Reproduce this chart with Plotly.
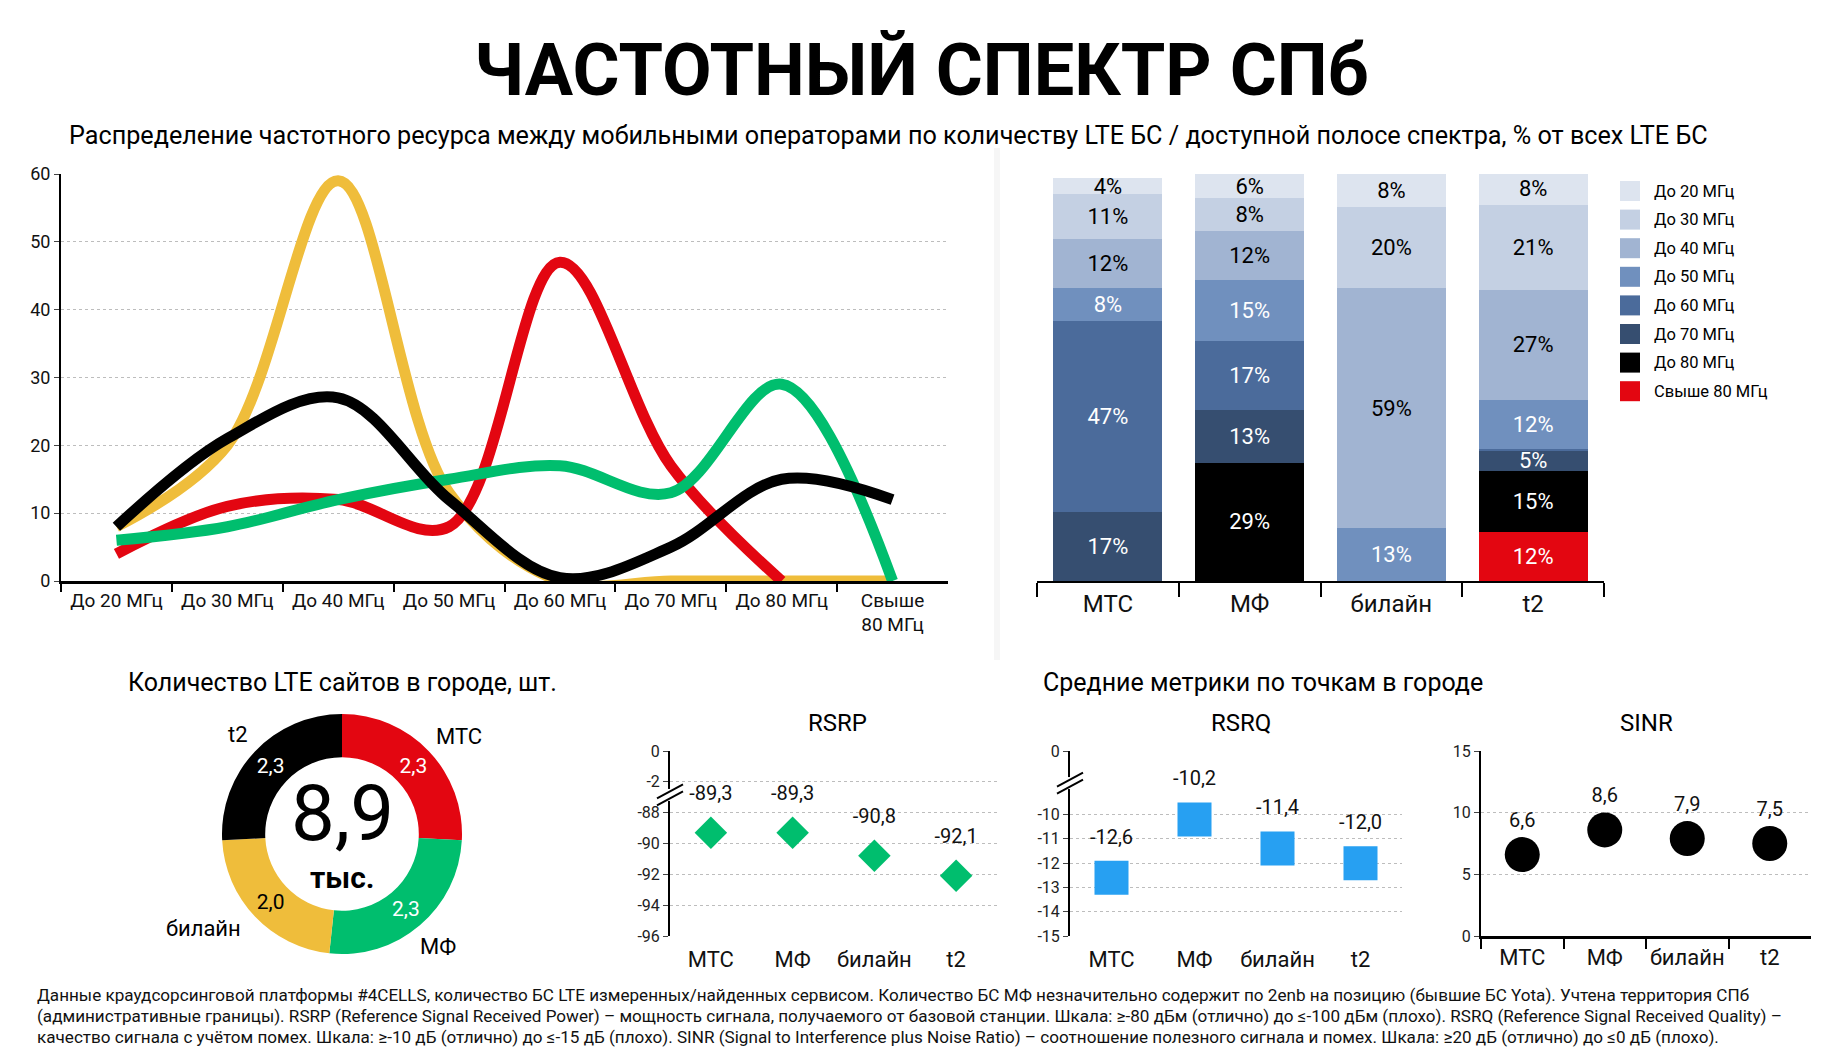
import plotly.graph_objects as go

# ---- data ----
bands = ['До 20 МГц', 'До 30 МГц', 'До 40 МГц', 'До 50 МГц',
         'До 60 МГц', 'До 70 МГц', 'До 80 МГц', 'Свыше 80 МГц']
band_ticks = ['До 20 МГц', 'До 30 МГц', 'До 40 МГц', 'До 50 МГц',
              'До 60 МГц', 'До 70 МГц', 'До 80 МГц', 'Свыше<br>80 МГц']
operators = ['МТС', 'МФ', 'билайн', 't2']

# share of LTE BS per band, % (by operator)
mts_share = [4, 11, 12, 8, 47, 17, 0, None]
mf_share = [6, 8, 12, 15, 17, 13, 29, 0]
beeline_share = [8, 20, 59, 13, 0, 0, 0, 0]
t2_share = [8, 21, 27, 12, 0.5, 5, 15, 12]

sites_k = [2.3, 2.3, 2.0, 2.3]          # тыс. LTE сайтов
rsrp = [-89.3, -89.3, -90.8, -92.1]
rsrq = [-12.6, -10.2, -11.4, -12.0]
sinr = [6.6, 8.6, 7.9, 7.5]

op_colors = ['#e30611', '#00be6e', '#efbd3b', '#000000']
band_colors = ['#dde4ef', '#c4d0e3', '#a1b4d2', '#7090be',
               '#4b6b9b', '#364e70', '#000000', '#e30611']
band_text = ['#000000', '#000000', '#000000', '#ffffff',
             '#ffffff', '#ffffff', '#ffffff', '#ffffff']

W, H = 1838, 1058
FONT = 'Roboto, Liberation Sans, sans-serif'


def px(x):
    return x / W


def py(y):
    return 1 - y / H


def fmt(v):
    return f'{v:.1f}'.replace('.', ',')


fig = go.Figure()

# ---- 1. line chart ----
shares = [mts_share, mf_share, beeline_share, t2_share]
for i in [2, 0, 1, 3]:
    fig.add_trace(go.Scatter(
        x=bands, y=shares[i], mode='lines',
        line=dict(color=op_colors[i], width=11, shape='spline', smoothing=1.0),
        showlegend=False, hoverinfo='skip', xaxis='x', yaxis='y'))

# ---- 2. stacked bars ----
for b in range(len(bands) - 1, -1, -1):
    vals = [s[b] if s[b] else 0 for s in shares]
    txt = [f'{v:g}%' if v >= 1 else '' for v in vals]
    fig.add_trace(go.Bar(
        x=operators, y=vals, name=bands[b], marker=dict(color=band_colors[b], line=dict(width=0)),
        text=txt, textposition='inside', insidetextanchor='middle', textangle=0,
        textfont=dict(color=band_text[b], size=22, family=FONT),
        showlegend=False, hoverinfo='skip', xaxis='x2', yaxis='y2'))

# ---- 3. donut ----
fig.add_trace(go.Pie(
    values=sites_k, labels=operators, sort=False, direction='clockwise', rotation=0,
    hole=0.64, marker=dict(colors=op_colors, line=dict(width=0)),
    text=[fmt(v) for v in sites_k], textinfo='text', textposition='inside',
    insidetextorientation='horizontal',
    textfont=dict(color=['#ffffff', '#ffffff', '#000000', '#ffffff'], size=20, family=FONT),
    domain=dict(x=[px(222), px(462)], y=[py(954), py(714)]),
    showlegend=False, hoverinfo='skip'))

# ---- 4. metrics: marker + value label (label on a transparent, larger marker to lift it) ----
metric_sets = [
    (rsrp, 'x3', 'y3', dict(symbol='diamond', size=25, color='#00be6e'), 43),
    (rsrq, 'x5', 'y5', dict(symbol='square', size=34, color='#27a0f2'), 45),
    (sinr, 'x7', 'y7', dict(symbol='circle', size=35, color='#000000'), 35),
]
for vals, xa, ya, mk, lift in metric_sets:
    fig.add_trace(go.Scatter(
        x=operators, y=vals, mode='markers', marker=mk,
        showlegend=False, hoverinfo='skip', xaxis=xa, yaxis=ya))
    fig.add_trace(go.Scatter(
        x=operators, y=vals, mode='text+markers', text=[fmt(v) for v in vals],
        textposition='top center', textfont=dict(size=20, family=FONT, color='#111'),
        marker=dict(size=lift, opacity=0),
        showlegend=False, hoverinfo='skip', xaxis=xa, yaxis=ya))

grid = dict(showgrid=True, gridcolor='#bdbdbd', griddash='dot', gridwidth=1)
tickf = dict(size=16, family=FONT, color='#222')
catf = dict(size=22, family=FONT, color='#111')
top_y = [py(936), py(751)]
fixed = dict(automargin=False, tickangle=0)
rsrp_x = [px(670), px(997)]
rsrq_x = [px(1070), px(1402)]
sinr_x = [px(1481), px(1811)]

fig.update_layout(
    width=W, height=H, margin=dict(l=0, r=0, t=0, b=0),
    paper_bgcolor='white', plot_bgcolor='white',
    barmode='stack', bargap=0.23,
    uniformtext=dict(minsize=21, mode='show'),
    font=dict(family=FONT, color='#000'),
    # line chart
    xaxis=dict(domain=[px(61), px(948)], anchor='y', range=[-0.5, 7.5],
               showline=True, linecolor='#000', linewidth=2.5,
               ticks='outside', ticklen=8, tickcolor='#000', tickwidth=2, tickson='boundaries',
               showgrid=False, tickvals=bands, ticktext=band_ticks,
               tickfont=dict(size=19, family=FONT, color='#111'), **fixed),
    yaxis=dict(domain=[py(581), py(174)], anchor='x', range=[0, 60], dtick=10,
               showline=True, linecolor='#000', linewidth=2, ticks='outside', ticklen=5,
               zeroline=False, tickfont=dict(size=18, family=FONT, color='#111'), **grid, **fixed),
    # bars
    xaxis2=dict(domain=[px(1037), px(1604)], anchor='y2', showline=True, linecolor='#000', linewidth=2,
                ticks='outside', ticklen=14, tickwidth=2, tickcolor='#000', tickson='boundaries',
                showgrid=False, tickfont=dict(size=24, family=FONT, color='#111'), **fixed),
    yaxis2=dict(domain=[py(581), py(174)], anchor='x2', range=[0, 100], visible=False, **fixed),
    # RSRP
    xaxis3=dict(domain=rsrp_x, anchor='y3', showline=False, ticks='', showgrid=False,
                tickfont=catf, range=[-0.5, 3.5], ticklabelstandoff=8, **fixed),
    xaxis4=dict(domain=rsrp_x, anchor='y3', overlaying='x3', side='top',
                range=[-0.5, 3.5], tickvals=[-0.5, 0.5, 1.5, 2.5, 3.5], showticklabels=False,
                showline=True, linecolor='#000', linewidth=2.5, ticks='outside', ticklen=10,
                tickwidth=2, tickcolor='#000', showgrid=False, **fixed),
    yaxis3=dict(domain=top_y, anchor='x3', range=[-96, -84],
                tickvals=[-96, -94, -92, -90, -88, -86, -84],
                ticktext=['-96', '-94', '-92', '-90', '-88', '-2', '0'],
                showline=True, linecolor='#000', linewidth=2, ticks='outside', ticklen=5,
                zeroline=False, tickfont=tickf, **grid, **fixed),
    # RSRQ
    xaxis5=dict(domain=rsrq_x, anchor='y5', showline=False, ticks='', showgrid=False,
                tickfont=catf, range=[-0.5, 3.5], ticklabelstandoff=8, **fixed),
    xaxis6=dict(domain=rsrq_x, anchor='y5', overlaying='x5', side='top',
                range=[-0.5, 3.5], tickvals=[-0.5, 0.5, 1.5, 2.5, 3.5], showticklabels=False,
                showline=True, linecolor='#000', linewidth=2.5, ticks='outside', ticklen=10,
                tickwidth=2, tickcolor='#000', showgrid=False, **fixed),
    yaxis5=dict(domain=top_y, anchor='x5', range=[-15, -7.38],
                tickvals=[-15, -14, -13, -12, -11, -10, -7.38],
                ticktext=['-15', '-14', '-13', '-12', '-11', '-10', '0'],
                showline=True, linecolor='#000', linewidth=2, ticks='outside', ticklen=5,
                zeroline=False, tickfont=tickf, **grid, **fixed),
    # SINR
    xaxis7=dict(domain=sinr_x, anchor='y7', range=[-0.5, 3.5],
                showline=True, linecolor='#000', linewidth=2.5,
                ticks='outside', ticklen=10, tickwidth=2, tickcolor='#000', tickson='boundaries',
                showgrid=False, tickfont=catf, **fixed),
    yaxis7=dict(domain=top_y, anchor='x7', range=[0, 15], dtick=5,
                showline=True, linecolor='#000', linewidth=2, ticks='outside', ticklen=5,
                zeroline=False, tickfont=tickf, **grid, **fixed),
)

ann = []


def text(x, y, s, size, bold=False, anchor='center', color='#000'):
    ann.append(dict(x=px(x), y=py(y), xref='paper', yref='paper', text=f'<b>{s}</b>' if bold else s,
                    showarrow=False, xanchor=anchor, yanchor='middle',
                    font=dict(size=size, family=FONT, color=color)))


text(922, 71, 'ЧАСТОТНЫЙ СПЕКТР СПб', 72, bold=True)
text(67, 135, 'Распределение частотного ресурса между мобильными операторами по количеству '
     'LTE БС / доступной полосе спектра, % от всех LTE БС', 25.2, anchor='left')
text(126, 682, 'Количество LTE сайтов в городе, шт.', 25, anchor='left')
text(1041, 682, 'Средние метрики по точкам в городе', 25, anchor='left')
text(837, 723, 'RSRP', 24)
text(1241, 723, 'RSRQ', 24)
text(1646, 723, 'SINR', 24)

# donut labels
text(459, 736, operators[0], 22)
text(438, 946, operators[1], 22)
text(203, 929, operators[2], 22)
text(238, 734, operators[3], 22)
text(342, 813, fmt(sum(sites_k)), 78)
text(342, 877, 'тыс.', 30, bold=True)

# legend for stacked bars
shapes = []
for i, b in enumerate(bands):
    yc = 191 + i * 28.6
    shapes.append(dict(type='rect', xref='paper', yref='paper', x0=px(1620), x1=px(1640),
                       y0=py(yc + 10), y1=py(yc - 10), fillcolor=band_colors[i], line=dict(width=0)))
    text(1652, yc, b, 16.5, anchor='left')

# axis breaks
for xr, yr, ya in [('x3 domain', 'y3', -86.85), ('x5 domain', 'y5', -8.7)]:
    shapes.append(dict(type='rect', xref=xr, yref=yr, xsizemode='pixel', ysizemode='pixel',
                       xanchor=0, yanchor=ya, x0=-4, x1=4, y0=-6, y1=6,
                       fillcolor='white', line=dict(width=0)))
    for off in (-3.5, 3.5):
        shapes.append(dict(type='line', xref=xr, yref=yr, xsizemode='pixel', ysizemode='pixel',
                           xanchor=0, yanchor=ya, x0=-13, x1=13, y0=off - 7, y1=off + 7,
                           line=dict(color='#000', width=2)))

# faint divider
shapes.append(dict(type='rect', xref='paper', yref='paper', x0=px(994), x1=px(1000),
                   y0=py(660), y1=py(148), fillcolor='rgba(0,0,0,0.035)', line=dict(width=0)))

foot = ['Данные краудсорсинговой платформы #4CELLS, количество БС LTE измеренных/найденных сервисом. '
        'Количество БС МФ незначительно содержит по 2enb на позицию (бывшие БС Yota). Учтена территория СПб',
        '(административные границы). RSRP (Reference Signal Received Power) – мощность сигнала, получаемого '
        'от базовой станции. Шкала: ≥-80 дБм (отлично) до ≤-100 дБм (плохо). RSRQ (Reference Signal Received Quality) –',
        'качество сигнала с учётом помех. Шкала: ≥-10 дБ (отлично) до ≤-15 дБ (плохо). SINR (Signal to '
        'Interference plus Noise Ratio) – соотношение полезного сигнала и помех. Шкала: ≥20 дБ (отлично) до ≤0 дБ (плохо).']
for i, line in enumerate(foot):
    text(35, 995 + i * 21, line, 17.1, anchor='left', color='#111')

fig.update_layout(annotations=ann, shapes=shapes)
fig.write_html('out.html', config={'displayModeBar': False},
               post_script="document.body.style.margin='0px';")
